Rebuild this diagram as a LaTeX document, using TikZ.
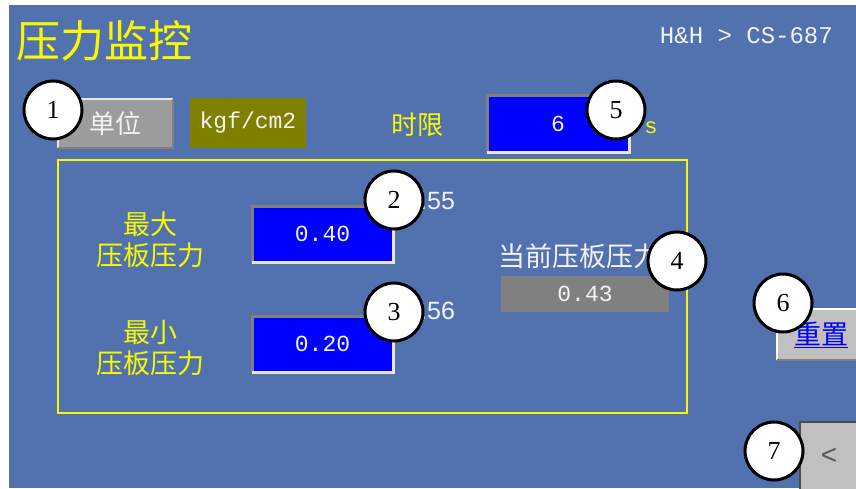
\documentclass[tikz,border=0pt]{standalone}
\usepackage{fontspec}
\setmainfont{Liberation Serif}
\newfontfamily\cjk{Noto Sans CJK SC}
\newfontfamily\mono{Liberation Mono}
\newfontfamily\sans{Liberation Sans}
\definecolor{panel}{HTML}{5272AF}
\definecolor{hmiyellow}{HTML}{F8F800}
\definecolor{hmiwhite}{HTML}{F2F2F2}
\definecolor{inblue}{HTML}{0000FF}
\definecolor{olivebox}{HTML}{808000}
\definecolor{btngray}{HTML}{9C9C9C}
\definecolor{litegray}{HTML}{C0C0C0}
\definecolor{curgray}{HTML}{808080}
\definecolor{bevdark}{HTML}{808080}
\definecolor{bevlight}{HTML}{E6E6E6}
\tikzset{
  box/.style={inner sep=0pt, outer sep=0pt},
  inputbox/.style={box, fill=inblue, text=hmiwhite, minimum width=141pt, minimum height=56pt,
    font=\mono\fontsize{23}{23}\selectfont},
  ylabel/.style={text=hmiyellow, inner sep=0pt, align=center},
  wlabel/.style={text=hmiwhite, inner sep=0pt},
  callout/.style={circle, draw=black, line width=3pt, fill=white, minimum size=58pt,
    inner sep=0pt, font=\fontsize{26}{26}\selectfont},
  sunkenTL/.style={draw=bevdark, line width=3pt},
  sunkenBR/.style={draw=bevlight, line width=3pt},
}
\begin{document}
\begin{tikzpicture}[x=1pt,y=-1pt]
\useasboundingbox (0,0) rectangle (856,488);
\fill[white] (0,0) rectangle (856,488);
\fill[panel] (9,5) rectangle (856,488);

% title and brand
\node[ylabel, anchor=west, font=\cjk\fontsize{44}{44}\selectfont] (title) at (16,41) {压力监控};
\node[wlabel, anchor=east, font=\mono\fontsize{24}{24}\selectfont] (brand) at (833,36) {H\&H > CS-687};

% unit button
\node[box, fill=btngray, minimum width=115pt, minimum height=49pt, text=hmiwhite,
  font=\cjk\fontsize{26}{26}\selectfont] (unit) at (115.5,123.5) {单位};
\draw[draw=bevlight, line width=2.5pt] (unit.south west) -- (unit.north west) -- (unit.north east);
\draw[draw=bevdark, line width=2.5pt] (unit.north east) -- (unit.south east) -- (unit.south west);

% unit value
\node[box, fill=olivebox, minimum width=116pt, minimum height=50pt, text=hmiwhite,
  font=\mono\fontsize{23}{23}\selectfont] (unitval) at (248,123) {kgf/cm2};

% time limit
\node[ylabel, font=\cjk\fontsize{26}{26}\selectfont] (tlabel) at (417,125) {时限};
\node[inputbox, minimum width=142pt, minimum height=57pt] (tbox) at (558,123.5) {6};
\draw[sunkenTL] (tbox.south west) -- (tbox.north west) -- (tbox.north east);
\draw[sunkenBR] (tbox.north east) -- (tbox.south east) -- (tbox.south west);
\node[ylabel, font=\mono\fontsize{22}{22}\selectfont] (tunit) at (651,128) {s};

% frame
\draw[hmiyellow, line width=1.8pt] (58,160) rectangle (687,413);

% max
\node[ylabel, font=\cjk\fontsize{27}{31}\selectfont] (maxl) at (150,239.5) {最大\\压板压力};
\node[inputbox] (maxbox) at (322.5,234) {0.40};
\draw[sunkenTL] (maxbox.south west) -- (maxbox.north west) -- (maxbox.north east);
\draw[sunkenBR] (maxbox.north east) -- (maxbox.south east) -- (maxbox.south west);
\node[wlabel, anchor=west, font=\sans\fontsize{25}{25}\selectfont] (maxlim) at (420,201) {.55};

% min
\node[ylabel, font=\cjk\fontsize{27}{31}\selectfont] (minl) at (150,347.5) {最小\\压板压力};
\node[inputbox] (minbox) at (322.5,344) {0.20};
\draw[sunkenTL] (minbox.south west) -- (minbox.north west) -- (minbox.north east);
\draw[sunkenBR] (minbox.north east) -- (minbox.south east) -- (minbox.south west);
\node[wlabel, anchor=west, font=\sans\fontsize{25}{25}\selectfont] (minlim) at (420,311) {.56};

% current
\node[wlabel, anchor=west, font=\cjk\fontsize{27}{27}\selectfont] (curl) at (498,256) {当前压板压力};
\node[box, fill=curgray, minimum width=168pt, minimum height=36pt, text=hmiwhite,
  font=\mono\fontsize{23}{23}\selectfont] (curbox) at (585,294) {0.43};

% reset button
\node[box, fill=litegray, minimum width=80pt, minimum height=51pt] (reset) at (817,334.5) {};
\draw[draw=white, line width=2.5pt] (reset.south west) -- (reset.north west) -- (reset.north east);
\draw[draw=bevdark, line width=2.5pt] (reset.south west) -- (reset.south east);
\node[text=inblue, inner sep=0pt, font=\cjk\fontsize{27}{27}\selectfont] (resett) at (821,335) {\underline{重置}};

% back button
\node[box, fill=litegray, draw=black!70, line width=1.5pt, minimum width=58pt, minimum height=68pt,
  text=black!65, font=\sans\fontsize{28}{28}\selectfont] (back) at (829,456) {<};

% callouts
\node[callout] (c1) at (53,110) {1};
\node[callout] (c5) at (616,110) {5};
\node[callout] (c2) at (394,200) {2};
\node[callout] (c3) at (394,312) {3};
\node[callout] (c4) at (677,261) {4};
\node[callout] (c6) at (783,303) {6};
\node[callout] (c7) at (774,451) {7};
\end{tikzpicture}
\end{document}
